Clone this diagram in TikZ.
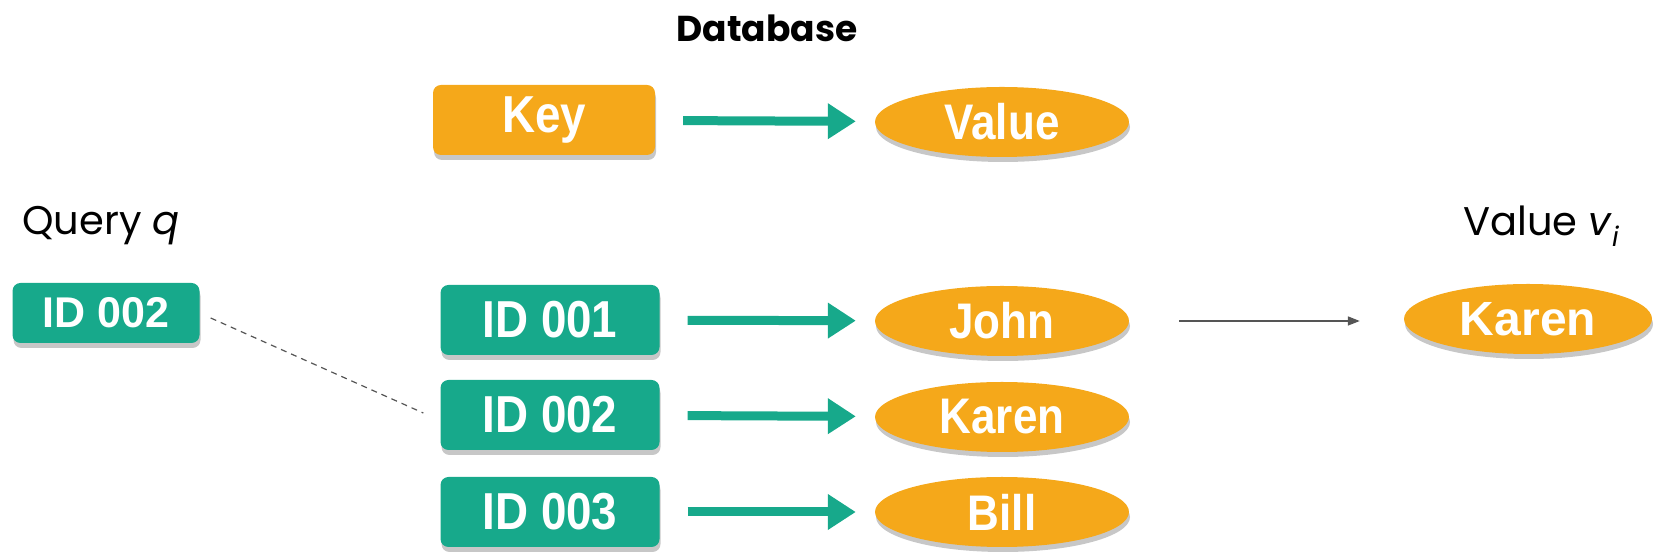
\documentclass[tikz,border=0pt]{standalone}
\usepackage{fontspec}
\setmainfont{Poppins}
\newfontfamily\boxfont{Liberation Sans}
\usetikzlibrary{shapes.geometric,arrows.meta,shadows}
\definecolor{idgreen}{HTML}{17A98B}
\definecolor{valorange}{HTML}{F5A81A}
\definecolor{linegray}{HTML}{555555}
\tikzset{
  boxshadow/.style={drop shadow={shadow xshift=1pt,shadow yshift=-5pt,fill=black,opacity=0.22}},
  idbox/.style={rectangle,rounded corners=8pt,fill=idgreen,minimum width=219pt,minimum height=70pt,
    inner sep=0pt,text=white,font=\boxfont\bfseries\fontsize{52}{56}\selectfont,boxshadow},
  keybox/.style={idbox,fill=valorange,minimum width=222pt},
  valoval/.style={ellipse,fill=valorange,minimum width=254pt,minimum height=70pt,inner sep=0pt,
    text=white,font=\boxfont\bfseries\fontsize{50}{54}\selectfont,boxshadow},
  maparrow/.style={draw=idgreen,line width=9pt,-{Triangle[length=28pt,width=34pt]},
    shorten <=28pt,shorten >=19pt},
  label/.style={inner sep=0pt,font=\fontsize{40}{46}\selectfont}
}
\begin{document}
\begin{tikzpicture}[x=1pt,y=1pt]
\useasboundingbox (0,0) rectangle (1654,556);
% title
\node[label,font=\bfseries\fontsize{36}{40}\selectfont] (title) at (767,528) {Database};
% header row
\node[keybox] (key) at (544,436) {\scalebox{0.88}[1]{Key}};
\node[valoval] (val) at (1002,434) {\scalebox{0.88}[1]{Value}};
\draw[maparrow] (key) -- (val);
% database rows
\node[idbox] (id1) at (550,236) {\scalebox{0.88}[1]{ID 001}};
\node[idbox] (id2) at (550,141) {\scalebox{0.88}[1]{ID 002}};
\node[idbox] (id3) at (550,44) {\scalebox{0.88}[1]{ID 003}};
\node[valoval] (v1) at (1002,235) {\scalebox{0.88}[1]{John}};
\node[valoval] (v2) at (1002,139) {\scalebox{0.88}[1]{Karen}};
\node[valoval] (v3) at (1002,44) {\scalebox{0.88}[1]{Bill}};
\draw[maparrow] (id1) -- (v1);
\draw[maparrow] (id2) -- (v2);
\draw[maparrow] (id3) -- (v3);
% query
\node[label] (qlabel) at (101,330) {Query \textit{q}};
\node[idbox,minimum width=187pt,minimum height=60pt,font=\boxfont\bfseries\fontsize{43}{47}\selectfont] (q) at (106,243) {ID 002};
\draw[linegray,line width=1.2pt,dash pattern=on 6pt off 5pt]
  ([xshift=11pt,yshift=-5pt]q.east) -- ([xshift=-17pt,yshift=2pt]id2.west);
% result
\node[label] (vlabel) at (1541,330) {Value \textit{v}\raisebox{-0.5ex}{\fontsize{27}{30}\selectfont\itshape i}};
\node[valoval,minimum width=248pt,font=\boxfont\bfseries\fontsize{48}{52}\selectfont] (res) at (1528,237) {Karen};
\draw[linegray,line width=1.5pt,-{Triangle[length=12pt,width=9pt]},shorten <=50pt,shorten >=44pt]
  (v1.east) -- (v1.east -| res.west);
\end{tikzpicture}
\end{document}
